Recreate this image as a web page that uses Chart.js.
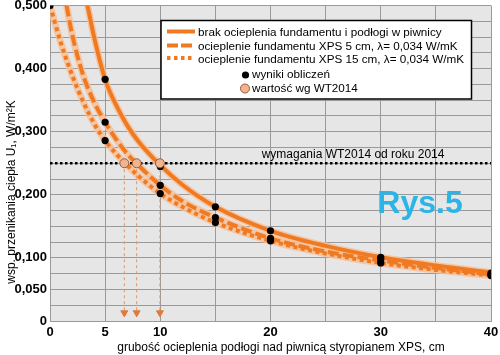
<!DOCTYPE html>
<html><head><meta charset="utf-8">
<script src="https://cdn.jsdelivr.net/npm/chart.js@4"></script>
<style>html,body{margin:0;padding:0;background:#fff;}#wrap{width:500px;height:355px;}</style>
</head><body><div id="wrap"><canvas id="c" width="500" height="355"></canvas></div>
<script>
// ---- data ----
const solidX = [3.4, 4, 5, 6, 7, 8, 10, 12, 15, 20, 25, 30, 35, 40];
const solidU = [0.5, 0.45, 0.383, 0.342, 0.31, 0.285, 0.247, 0.216, 0.181, 0.143, 0.119, 0.101, 0.088, 0.077];
const xps5X = [1.5, 2, 3, 4, 5, 6, 7, 8, 10, 12, 15, 20, 25, 30, 35, 40];
const xps5U = [0.5, 0.455, 0.39, 0.347, 0.315, 0.288, 0.265, 0.247, 0.215, 0.19, 0.164, 0.131, 0.11, 0.096, 0.084, 0.074];
const xps15X = [0, 1, 2, 3, 4, 5, 6, 7, 8, 10, 12, 15, 20, 25, 30, 35, 40];
const xps15U = [0.5, 0.44, 0.39, 0.348, 0.313, 0.286, 0.265, 0.247, 0.23, 0.202, 0.181, 0.156, 0.127, 0.107, 0.092, 0.081, 0.072];
const calcX = [0, 5, 5, 5, 10, 10, 10, 15, 15, 15, 20, 20, 20, 30, 30, 30, 40, 40, 40];
const calcU = [0.5, 0.383, 0.315, 0.286, 0.245, 0.215, 0.202, 0.181, 0.164, 0.156, 0.143, 0.131, 0.127, 0.101, 0.097, 0.092, 0.076, 0.074, 0.072];
const wtX = [6.74, 7.86, 9.97];
const wtU = [0.25, 0.25, 0.25];
const reqU = 0.25;
const reqRange = [0, 40];
const arrowEndU = 0.013;
const yTickLabels = [0, 0.05, 0.1, 0.2, 0.3, 0.4, 0.5];
const xTickLabels = [0, 5, 10, 20, 30, 40];
const seriesNames = [
  'brak ocieplenia fundamentu i podłogi w piwnicy',
  'ocieplenie fundamentu XPS 5 cm, λ= 0,034 W/mK',
  'ocieplenie fundamentu XPS 15 cm, λ= 0,034 W/mK',
  'wyniki obliczeń',
  'wartość wg WT2014'
];
const reqLabel = 'wymagania WT2014 od roku 2014';
const figLabel = 'Rys.5';
const xTitle = 'grubość ocieplenia podłogi nad piwnicą styropianem XPS, cm';
const yTitle = 'wsp. przenikania ciepła U\u2081, W/m\u00b2K';

const ORANGE = '#f07a22';
const HALO = 'rgba(247,192,152,0.85)';
const FONT = '"Liberation Sans", Arial, sans-serif';

const pts = (xs, ys) => xs.map((x, i) => ({x, y: ys[i]}));

const curve = (name, xs, ys, dash, order) => ({
  label: name, data: pts(xs, ys), showLine: true, borderColor: ORANGE, borderWidth: 4,
  borderDash: dash, pointRadius: 0, cubicInterpolationMode: 'monotone', order, borderCapStyle: 'butt'
});
const halo = (xs, ys) => ({
  label: 'halo', data: pts(xs, ys), showLine: true, borderColor: HALO, borderWidth: 7,
  pointRadius: 0, cubicInterpolationMode: 'monotone', order: 9
});
const arrows = wtX.map((x, i) => ({
  label: 'arrow', data: [{x, y: wtU[i]}, {x, y: arrowEndU}], showLine: true,
  borderColor: '#e39566', borderWidth: 1, borderDash: [3, 3],
  pointRadius: [0, 4], pointStyle: 'triangle', rotation: 180,
  pointBackgroundColor: '#e0793a', pointBorderColor: '#e0793a', pointBorderWidth: 1, order: 5
}));

const datasets = [
  {label: seriesNames[4], data: pts(wtX, wtU), pointRadius: 4.5, pointBackgroundColor: '#f2b48e', pointBorderColor: '#9a5a3a', pointBorderWidth: 1, order: 0},
  {label: seriesNames[3], data: pts(calcX, calcU), pointRadius: 3.6, pointBackgroundColor: '#000', pointBorderColor: '#000', pointBorderWidth: 0, order: 1},
  {label: 'req', data: reqRange.map(x => ({x, y: reqU})), showLine: true, borderColor: '#000', borderWidth: 2.5, borderDash: [2.5, 2.5], pointRadius: 0, order: 2},
  curve(seriesNames[0], solidX, solidU, [], 6),
  curve(seriesNames[1], xps5X, xps5U, [11, 4], 7),
  curve(seriesNames[2], xps15X, xps15U, [4, 3.5], 8),
  halo(solidX, solidU), halo(xps5X, xps5U), halo(xps15X, xps15U),
  ...arrows
];

const decor = {
  id: 'decor',
  beforeDraw(chart) {
    const {ctx, chartArea: a} = chart;
    ctx.save();
    ctx.fillStyle = '#e6e6e6';
    ctx.fillRect(a.left, a.top, a.right - a.left, a.bottom - a.top);
    ctx.restore();
  },
  afterDraw(chart) {
    const {ctx, scales: {x, y}} = chart;
    ctx.save();
    // axis titles
    ctx.fillStyle = '#000';
    ctx.font = '12px ' + FONT;
    ctx.textAlign = 'center'; ctx.textBaseline = 'middle';
    ctx.fillText(xTitle, 281, 348);
    ctx.save();
    ctx.translate(12, 192); ctx.rotate(-Math.PI / 2);
    ctx.fillText(yTitle, 0, 0);
    ctx.restore();
    // requirement label
    ctx.font = '12px ' + FONT;
    ctx.textAlign = 'left';
    ctx.fillText(reqLabel, x.getPixelForValue(19.2), y.getPixelForValue(reqU) - 9);
    // figure label
    ctx.fillStyle = '#2bb4e6';
    ctx.font = 'bold 32px ' + FONT;
    ctx.textAlign = 'center';
    ctx.fillText(figLabel, 420, 204);
    // legend
    const L = 161, T = 20.5, W = 310.5, H = 78.5;
    ctx.fillStyle = '#fff';
    ctx.fillRect(L, T, W, H);
    ctx.strokeStyle = '#000'; ctx.lineWidth = 1.5;
    ctx.strokeRect(L, T, W, H);
    const rows = [31.5, 45.5, 58, 75, 88.5];
    const dashes = [[], [11, 3], [3.5, 3.5]];
    ctx.strokeStyle = ORANGE; ctx.lineWidth = 4; ctx.lineCap = 'butt';
    for (let i = 0; i < 3; i++) {
      ctx.setLineDash(dashes[i]);
      ctx.beginPath(); ctx.moveTo(167, rows[i]); ctx.lineTo(195, rows[i]); ctx.stroke();
    }
    ctx.setLineDash([]);
    ctx.fillStyle = '#000';
    ctx.beginPath(); ctx.arc(245.5, rows[3], 3.6, 0, Math.PI * 2); ctx.fill();
    ctx.fillStyle = '#f2b48e'; ctx.strokeStyle = '#9a5a3a'; ctx.lineWidth = 1;
    ctx.beginPath(); ctx.arc(245, rows[4], 4.5, 0, Math.PI * 2); ctx.fill(); ctx.stroke();
    ctx.fillStyle = '#000';
    ctx.font = '11.7px ' + FONT;
    ctx.textAlign = 'left'; ctx.textBaseline = 'middle';
    for (let i = 0; i < 3; i++) ctx.fillText(seriesNames[i], 198, rows[i] + 1.5);
    ctx.fillText(seriesNames[3], 252, rows[3]);
    ctx.fillText(seriesNames[4], 252, rows[4]);
    ctx.restore();
  }
};

const tickFont = {family: FONT, size: 13, weight: 'bold'};
new Chart(document.getElementById('c'), {
  type: 'scatter',
  data: {datasets},
  options: {
    responsive: false, animation: false, devicePixelRatio: 1,
    layout: {padding: {left: 0, right: 9, top: 5, bottom: 0}},
    plugins: {legend: {display: false}, tooltip: {enabled: false}},
    scales: {
      x: {
        type: 'linear', min: 0, max: 40,
        ticks: {stepSize: 5, autoSkip: false, maxRotation: 0, padding: 4, color: '#000', font: tickFont,
          callback: v => xTickLabels.includes(v) ? String(v) : ''},
        grid: {color: '#9a9a9a', drawTicks: false},
        border: {color: '#9a9a9a'},
        afterFit(s) { s.height = 34; s.paddingLeft = 0; s.paddingRight = 0; }
      },
      y: {
        type: 'linear', min: 0, max: 0.5,
        ticks: {stepSize: 0.025, autoSkip: false, padding: 3, color: '#000', font: tickFont,
          callback: v => {
            const r = Math.round(v * 1000);
            if (!yTickLabels.some(t => Math.round(t * 1000) === r)) return '';
            return r === 0 ? '0' : (r / 1000).toFixed(3).replace('.', ',');
          }},
        grid: {color: '#9a9a9a', drawTicks: false},
        border: {color: '#9a9a9a'},
        afterFit(s) { s.width = 50; s.paddingTop = 0; s.paddingBottom = 0; }
      }
    }
  },
  plugins: [decor]
});
</script></body></html>
